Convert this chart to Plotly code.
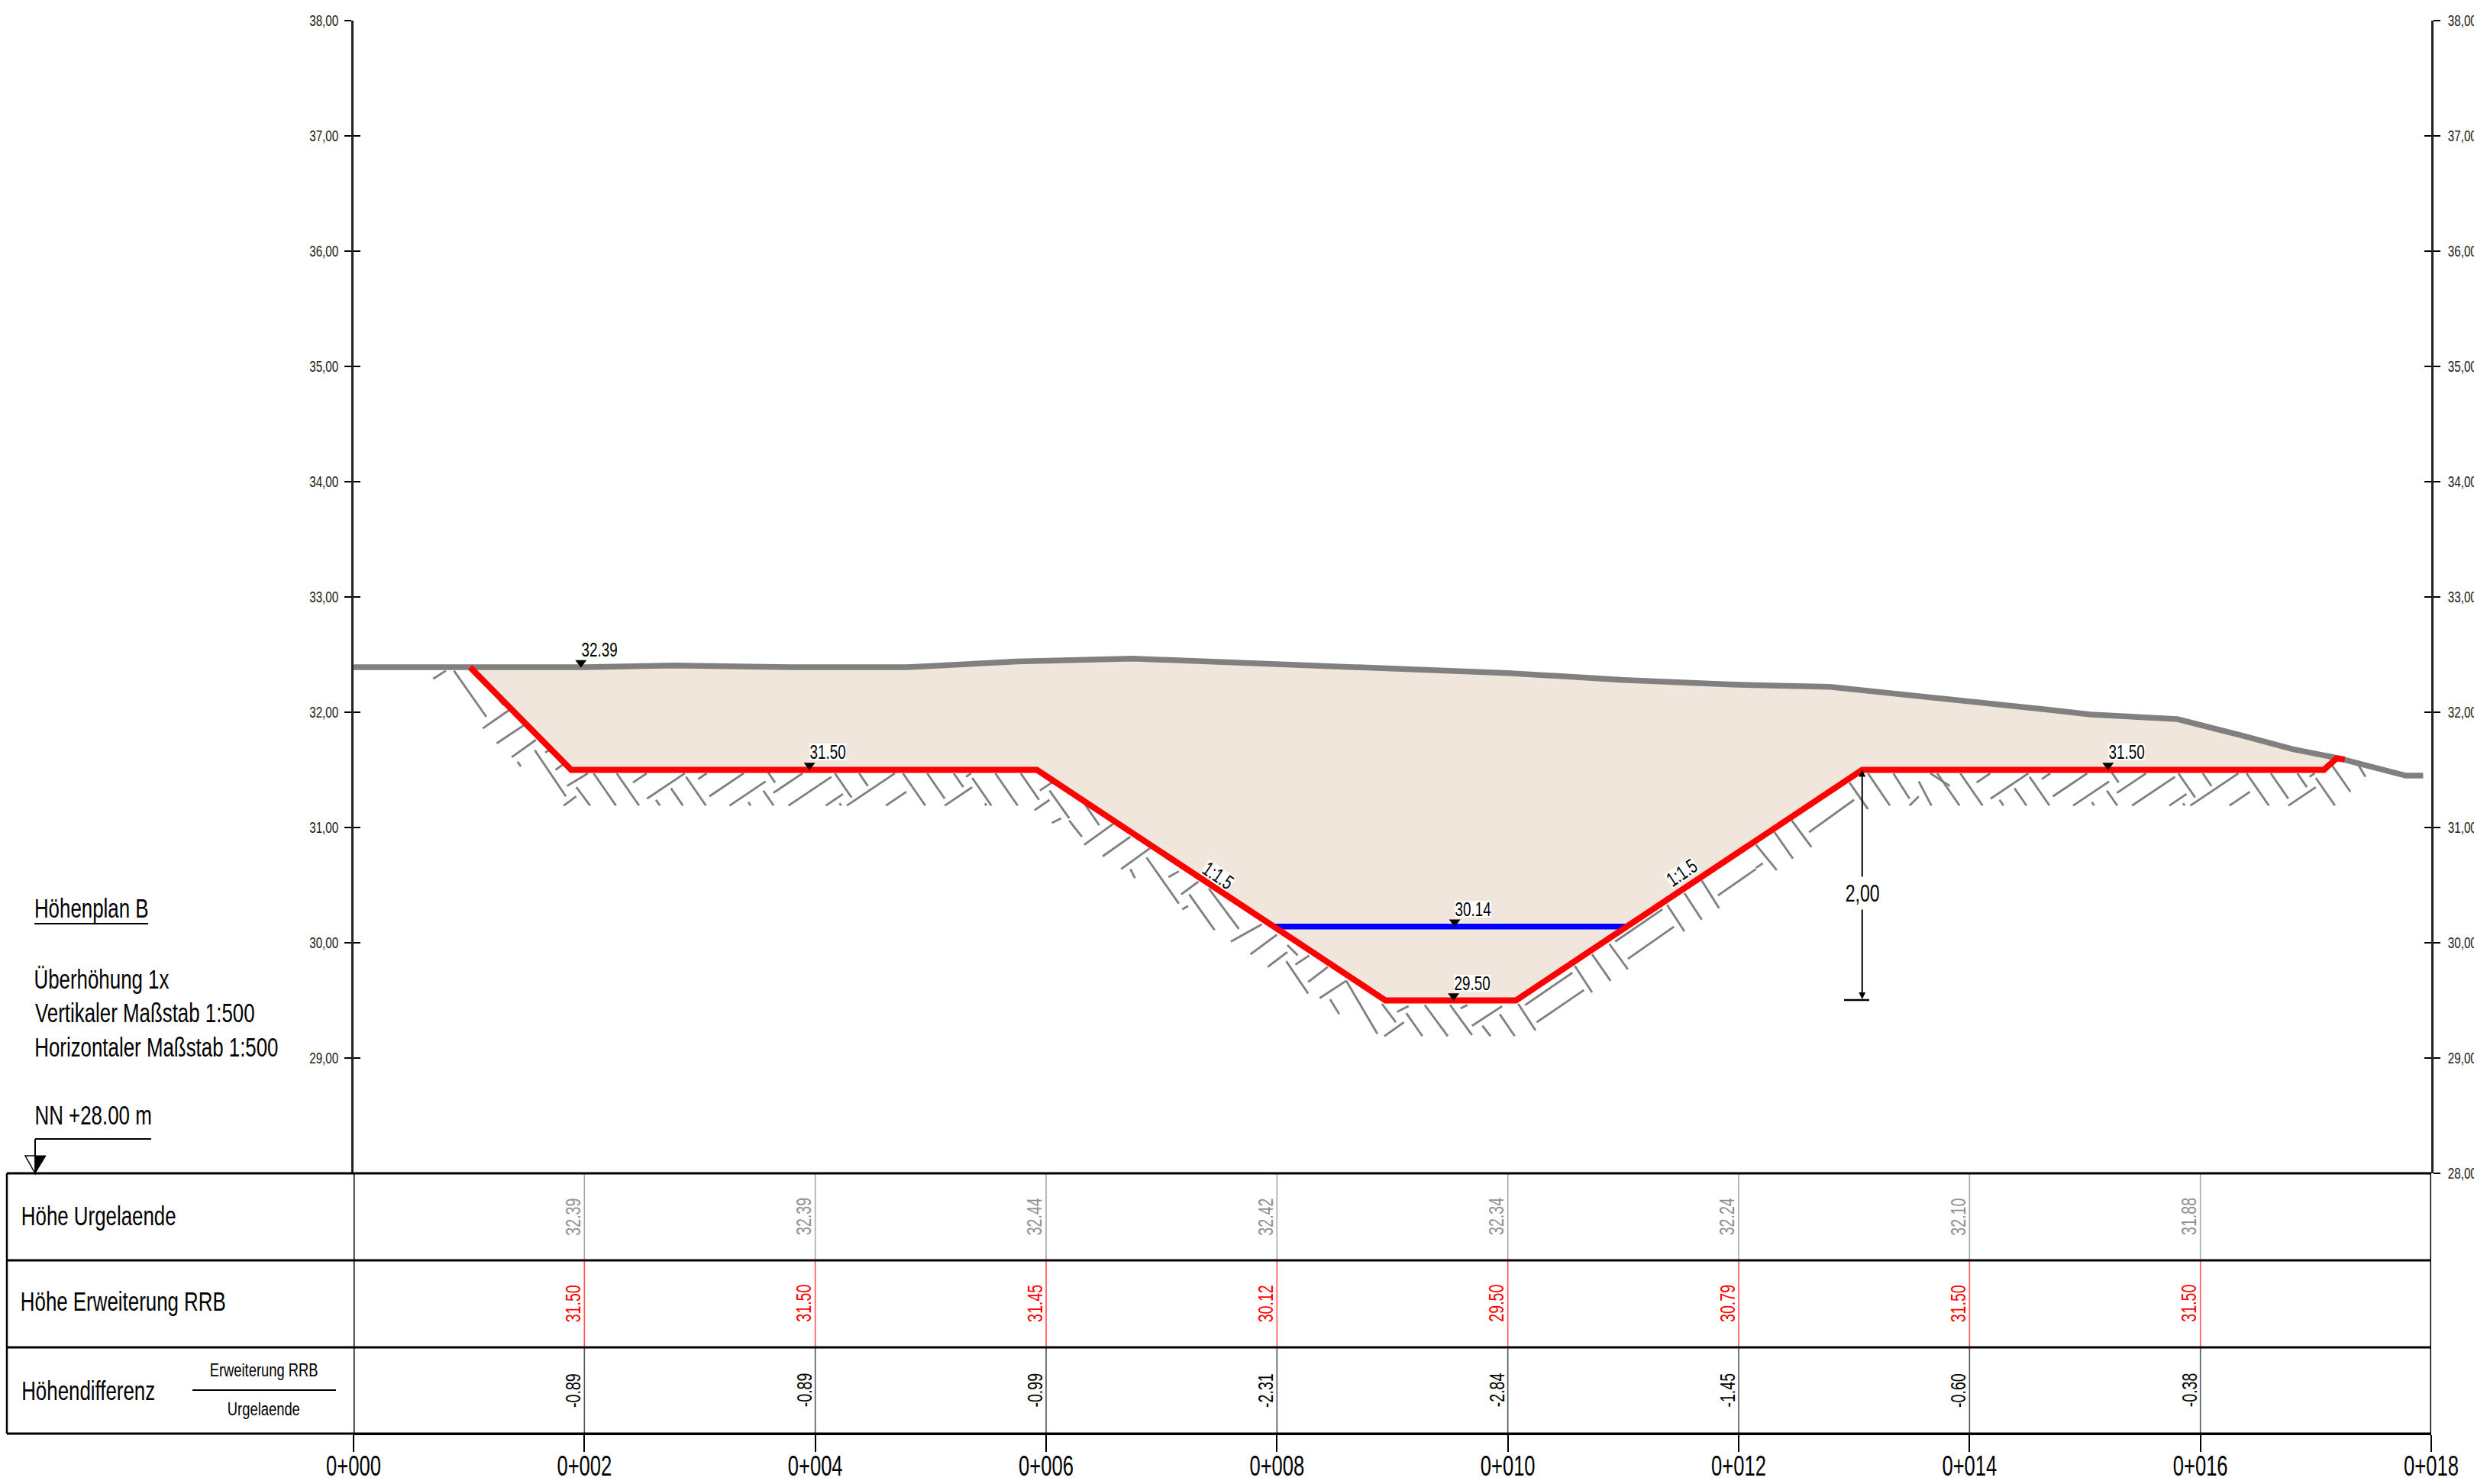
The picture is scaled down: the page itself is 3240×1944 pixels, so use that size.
import plotly.graph_objects as go

W, H = 3240, 1944
FONT = "Liberation Sans, Arial, sans-serif"

# ---- chart data (metres along station / metres NN) ----
station_ticks = [0, 2, 4, 6, 8, 10, 12, 14, 16, 18]
station_labels = ["0+000", "0+002", "0+004", "0+006", "0+008", "0+010", "0+012", "0+014", "0+016", "0+018"]
height_ticks_left = [29, 30, 31, 32, 33, 34, 35, 36, 37, 38]
height_labels_left = ["29,00", "30,00", "31,00", "32,00", "33,00", "34,00", "35,00", "36,00", "37,00", "38,00"]
height_ticks_right = [28, 29, 30, 31, 32, 33, 34, 35, 36, 37, 38]
height_labels_right = ["28,00", "29,00", "30,00", "31,00", "32,00", "33,00", "34,00", "35,00", "36,00", "37,00", "38,00"]

ground_x = [0, 1.0, 2, 2.77, 3.8, 4.8, 5.75, 6.75, 8, 8.55, 10, 11, 11.95, 12.79, 14, 14.7, 15.05, 15.8, 16.35, 16.8, 17.2, 17.78, 17.93]
ground_y = [32.39, 32.385, 32.39, 32.405, 32.39, 32.39, 32.44, 32.465, 32.42, 32.40, 32.34, 32.28, 32.24, 32.22, 32.10, 32.02, 31.98, 31.94, 31.80, 31.68, 31.60, 31.45, 31.45]

design_x = [1.01, 1.886, 5.92, 8.94, 10.07, 13.07, 17.07, 17.18, 17.25]
design_y = [32.39, 31.50, 31.50, 29.50, 29.50, 31.50, 31.50, 31.60, 31.59]

water_x = [7.97, 11.02]
water_y = [30.14, 30.14]

level_x = [1.97, 3.95, 9.54, 9.53, 15.2]
level_y = [32.39, 31.50, 30.14, 29.50, 31.50]
level_text = ["32.39", "31.50", "30.14", "29.50", "31.50"]

table_stations = [2, 4, 6, 8, 10, 12, 14, 16]
hoehe_urgelaende = ["32.39", "32.39", "32.44", "32.42", "32.34", "32.24", "32.10", "31.88"]
hoehe_erweiterung = ["31.50", "31.50", "31.45", "30.12", "29.50", "30.79", "31.50", "31.50"]
hoehe_differenz = ["-0.89", "-0.89", "-0.99", "-2.31", "-2.84", "-1.45", "-0.60", "-0.38"]

# hatching strokes: (x1, y1, x2, y2)
hatch_strokes = [
    (0.69,32.29,0.80,32.36),(1.12,31.86,1.35,32.02),(1.24,31.73,1.48,31.89),(1.37,31.61,1.58,31.76),
    (1.66,31.65,1.71,31.68),(1.75,31.50,1.82,31.55),(1.85,31.36,2.03,31.47),(1.82,31.19,1.93,31.27),
    (0.87,32.36,1.15,31.96),(1.23,32.15,1.30,32.06),(1.57,31.67,1.84,31.27),(1.42,31.57,1.45,31.53),(1.93,31.35,2.05,31.19),
    (6.03,31.32,6.20,31.08),(5.90,31.15,6.03,31.24),(6.05,31.04,6.13,31.08),
    (6.33,30.85,6.58,31.03),(6.49,30.75,6.73,30.92),(6.65,30.64,6.90,30.82),(7.06,30.57,7.15,30.62),
    (7.17,30.42,7.32,30.53),(7.18,30.29,7.23,30.32),(7.60,30.01,7.87,30.16),(7.77,29.90,8.00,30.07),
    (7.92,29.79,8.09,29.92),(8.16,29.81,8.28,29.89),(8.27,29.66,8.44,29.79),(8.37,29.52,8.60,29.67),(8.93,29.19,9.10,29.31),
    (6.20,31.06,6.31,30.92),(6.33,31.21,6.46,31.02),(6.87,30.74,7.15,30.34),(7.24,30.42,7.46,30.11),(7.41,30.47,7.67,30.12),
    (8.08,29.84,8.27,29.56),(8.09,29.98,8.18,29.89),(8.60,29.67,8.87,29.21),(8.46,29.51,8.54,29.38),(6.73,30.64,6.77,30.56),
    (8.91,29.47,9.03,29.31),(9.12,29.39,9.26,29.19),(9.28,29.46,9.48,29.19),(9.50,29.46,9.69,29.20),(9.78,29.28,9.85,29.19),
    (9.93,29.38,10.06,29.19),(10.09,29.47,10.24,29.24),(9.04,29.40,9.14,29.45),(9.59,29.43,9.65,29.46),(9.69,29.28,9.95,29.45),
    (10.58,29.80,10.73,29.57),(10.73,29.90,10.89,29.67),(10.88,29.99,11.04,29.77),(11.38,30.33,11.53,30.10),
    (11.53,30.43,11.68,30.20),(11.68,30.54,11.83,30.30),
    (10.15,29.46,10.56,29.74),(10.25,29.31,10.66,29.59),(10.93,30.01,11.34,30.29),(11.04,29.86,11.44,30.14),(11.82,30.41,12.15,30.64),
    (12.15,30.85,12.33,30.63),(12.31,30.96,12.47,30.73),(12.46,31.06,12.63,30.83),(12.96,31.39,13.12,31.16),
    (12.61,30.96,13.00,31.24),(12.15,30.65,12.21,30.69),
    (13.12,31.47,13.31,31.19),(13.34,31.47,13.48,31.25),(13.56,31.40,13.67,31.19),(13.66,31.47,13.83,31.36),(13.48,31.19,13.56,31.27),
    (17.14,31.54,17.30,31.31),(17.37,31.54,17.43,31.44),
]
# strokes under the flat berm: (x_top, y_top, y_bottom)
flat_back = [(2.08,31.47,31.19),(2.28,31.47,31.19),(2.62,31.24,31.19),(2.75,31.34,31.19),(2.88,31.44,31.19),
             (3.42,31.22,31.19),(3.55,31.32,31.19),(3.59,31.48,31.39),(4.17,31.47,31.26),(4.38,31.47,31.36),
             (4.21,31.21,31.19),(4.76,31.47,31.19),(4.97,31.47,31.25),(5.20,31.47,31.35),(5.36,31.43,31.19),
             (5.47,31.21,31.19),(5.56,31.47,31.19),(5.78,31.47,31.24)]
flat_forward = [(2.54,31.47,31.39),(2.87,31.47,31.25),(3.06,31.47,31.42),(3.38,31.47,31.27),(3.57,31.40,31.19),
                (3.89,31.47,31.30),(4.14,31.44,31.19),(4.24,31.29,31.19),(4.69,31.47,31.19),(4.79,31.31,31.19),
                (5.35,31.47,31.44),(5.36,31.35,31.19),(6.05,31.39,31.32)]
berm_shift = 11.64   # the same hatch repeats under the right-hand berm


def px(x):
    return x / W


def py(y):
    return 1 - y / H


hx, hy = [], []


def stroke(x1, y1, x2, y2):
    hx.extend([x1, x2, None])
    hy.extend([y1, y2, None])


for s in hatch_strokes:
    stroke(*s)
for shift, limit in ((0, 99), (berm_shift, 5.40)):
    for x, y1, y2 in flat_back:
        if x <= limit:
            stroke(x + shift, y1, x + shift + (y1 - y2) * 0.69, y2)
    for x, y1, y2 in flat_forward:
        if x <= limit:
            stroke(x + shift, y1, x + shift - (y1 - y2) * 1.49, y2)

# cross-section polygon between design profile and original ground
fill_x = design_x[:8] + [x for x in reversed(ground_x) if design_x[0] < x < design_x[7]]
fill_y = design_y[:8] + [y for x, y in zip(reversed(ground_x), reversed(ground_y)) if design_x[0] < x < design_x[7]]

fig = go.Figure()
fig.add_trace(go.Scatter(x=hx, y=hy, mode="lines", line=dict(color="#808080", width=2.8)))
fig.add_trace(go.Scatter(x=fill_x, y=fill_y, mode="lines", fill="toself", fillcolor="#F0E6DC", line=dict(width=0)))
fig.add_trace(go.Scatter(x=ground_x, y=ground_y, mode="lines", line=dict(color="#808080", width=7.5)))
fig.add_trace(go.Scatter(x=water_x, y=water_y, mode="lines", line=dict(color="#0000FF", width=7.5)))
fig.add_trace(go.Scatter(x=design_x, y=design_y, mode="lines", line=dict(color="#FF0000", width=8)))
fig.add_trace(go.Scatter(x=level_x, y=[v + 0.04 for v in level_y], mode="markers",
                         marker=dict(symbol="triangle-down", size=13, color="black", line=dict(width=0))))

# table verticals on their own axis (rows 0..3, bottom to top)
row_colors = ["#555555", "#FF5050", "#A8A8A8"]
for row, col in enumerate(row_colors):
    xs, ys = [], []
    for st in table_stations:
        xs += [st, st, None]
        ys += [row, row + 1, None]
    fig.add_trace(go.Scatter(x=xs, y=ys, yaxis="y4", mode="lines", line=dict(color=col, width=1.6)))
fig.add_trace(go.Scatter(x=[0, 0, None, 18, 18], y=[0, 3, None, 0, 3], yaxis="y4", mode="lines", cliponaxis=False,
                         line=dict(color="black", width=3)))
for ya in ("y2", "y3", "y5"):
    fig.add_trace(go.Scatter(x=[None], y=[None], yaxis=ya, mode="lines"))

ann = []
# elevation labels
for x, y, t in zip(level_x, level_y, level_text):
    ann.append(dict(x=x, y=y, text=t, xref="x", yref="y", showarrow=False, xanchor="center", yanchor="middle",
                    yshift=23, xshift=24, bgcolor="white" if t != "32.39" else None, borderpad=0,
                    font=dict(size=26.5, color="black", family=FONT)))
# slope labels
for x, y, a in ((7.49, 30.585, 34), (11.51, 30.61, -34)):
    ann.append(dict(x=x, y=y, text="1:1.5", xref="x", yref="y", showarrow=False, textangle=a, bgcolor="white",
                    borderpad=0, xanchor="center", yanchor="middle",
                    font=dict(size=26.5, color="black", family=FONT)))
# dimension arrow
ann.append(dict(x=design_x[5], y=31.5, ax=design_x[5], ay=29.5, xref="x", yref="y", axref="x", ayref="y", text="",
                showarrow=True, arrowhead=2, arrowside="end+start", arrowsize=0.9, arrowwidth=2, arrowcolor="black"))
ann.append(dict(x=design_x[5], y=30.43, text="2,00", xref="x", yref="y", showarrow=False, bgcolor="white",
                borderpad=3, xanchor="center", yanchor="middle", font=dict(size=32, color="black", family=FONT)))
# table numbers
for row, vals, col in ((2.5, hoehe_urgelaende, "#909090"), (1.5, hoehe_erweiterung, "#FF0000"), (0.5, hoehe_differenz, "black")):
    for st, v in zip(table_stations, vals):
        ann.append(dict(x=st, y=row, yref="y4", xref="x", text=v, textangle=-90, showarrow=False, xshift=-15,
                        xanchor="center", yanchor="middle", font=dict(size=28, color=col, family=FONT)))
# text blocks in page coordinates (text centres)
blocks = [
    ("Höhenplan B", 120, 1190, 34.5), ("Überhöhung 1x", 133, 1283, 34.5), ("Vertikaler Maßstab 1:500", 190, 1327, 34.5),
    ("Horizontaler Maßstab 1:500", 204.5, 1372, 34.5), ("NN +28.00 m", 122, 1461, 34.5),
    ("Höhe Urgelaende", 129, 1593, 34.5), ("Höhe Erweiterung RRB", 161, 1705, 34.5), ("Höhendifferenz", 115, 1822, 34.5),
]
for t, x, y, s in blocks:
    ann.append(dict(x=px(x), y=py(y), xref="paper", yref="paper", text=t, showarrow=False, xanchor="center",
                    yanchor="middle", font=dict(size=s, color="black", family=FONT)))
for t, y in (("Erweiterung RRB", 1794), ("Urgelaende", 1845)):
    ann.append(dict(x=px(345), y=py(y), xref="paper", yref="paper", text=t, showarrow=False, xanchor="center",
                    yanchor="middle", font=dict(size=24.5, color="black", family=FONT)))

shapes = []


def seg(x0, y0, x1, y1, w=2):
    shapes.append(dict(type="line", xref="paper", yref="paper", x0=px(x0), y0=py(y0), x1=px(x1), y1=py(y1),
                       line=dict(color="black", width=w)))


for y in (1537, 1651, 1765, 1878):
    seg(9, y, 3184, y, 3)
seg(9, 1537, 9, 1878, 2.5)
seg(45, 1210, 194, 1210, 2)
seg(252, 1821, 440, 1821, 2)
seg(46, 1492, 198, 1492, 2)
seg(46, 1492, 46, 1537, 2)
seg(2415, 1310, 2448, 1310, 2.5)
shapes.append(dict(type="path", xref="paper", yref="paper",
                   path=f"M {px(33)} {py(1514)} L {px(46)} {py(1514)} L {px(46)} {py(1537)} Z",
                   line=dict(color="black", width=1.5), fillcolor="white"))
shapes.append(dict(type="path", xref="paper", yref="paper",
                   path=f"M {px(46)} {py(1514)} L {px(60)} {py(1514)} L {px(46)} {py(1537)} Z",
                   line=dict(color="black", width=1), fillcolor="black"))

dom_y = [py(1537), py(27)]
tick_font = dict(size=20, color="#222222", family=FONT)
base_y = dict(domain=dom_y, range=[28, 38], showgrid=False, zeroline=False, anchor="x",
              showline=True, linecolor="#222222", linewidth=2.5, ticklen=9, tickwidth=2, tickcolor="black")

fig.update_layout(
    width=W, height=H, autosize=False, margin=dict(l=0, r=0, t=0, b=0, autoexpand=False, pad=0),
    paper_bgcolor="white", plot_bgcolor="white", showlegend=False,
    xaxis=dict(domain=[px(463), px(3184)], range=[0, 18], anchor="free", position=py(1878), showgrid=False,
               zeroline=False, showline=True, linecolor="black", linewidth=2.5, ticks="outside", ticklen=22,
               tickwidth=2, tickcolor="black", tickvals=station_ticks, ticktext=station_labels,
               ticklabelstandoff=-12, tickfont=dict(size=36, color="black", family=FONT)),
    yaxis=dict(**base_y, side="left", ticks="outside", tickvals=height_ticks_left, ticktext=height_labels_left,
               tickfont=tick_font, ticklabelstandoff=4),
    yaxis3=dict(**base_y, side="left", overlaying="y", ticks="inside", tickvals=height_ticks_left, showticklabels=False),
    yaxis2=dict(**base_y, side="right", overlaying="y", ticks="outside", tickvals=height_ticks_right,
                ticktext=height_labels_right, tickfont=tick_font, ticklabelstandoff=6),
    yaxis5=dict(**base_y, side="right", overlaying="y", ticks="inside", tickvals=height_ticks_right, showticklabels=False),
    yaxis4=dict(domain=[py(1878), py(1537)], range=[0, 3], visible=False, anchor="x"),
    annotations=ann, shapes=shapes,
)

# The reference lettering is a condensed face: narrow the real SVG text horizontally by font size.
squeeze_js = """
document.body.style.margin = '0';
var gd = document.getElementById('{plot_id}');
var factors = {'28':0.70,'20':0.76,'36':0.71,'26.5':0.71,'32':0.72,'34.5':0.75,'24.5':0.75};
function squeeze() {
  gd.querySelectorAll('text').forEach(function (t) {
    if (t.getAttribute('data-sq')) return;
    var size = parseFloat(t.style.fontSize);
    var f = factors[String(size)];
    if (!f) return;
    var L = t.getComputedTextLength();
    if (!L) return;
    t.setAttribute('textLength', L * f);
    t.setAttribute('lengthAdjust', 'spacingAndGlyphs');
    t.setAttribute('data-sq', '1');
    var r = t.parentNode.querySelector('rect.bg');
    if (r) {
      var w = parseFloat(r.getAttribute('width'));
      r.setAttribute('x', parseFloat(r.getAttribute('x')) + w * (1 - f) / 2);
      r.setAttribute('width', w * f);
      if (size === 26.5) {
        var h = parseFloat(r.getAttribute('height'));
        r.setAttribute('y', parseFloat(r.getAttribute('y')) + (h - 22) / 2);
        r.setAttribute('height', 22);
      }
    }
  });
}
squeeze();
gd.on('plotly_afterplot', squeeze);
setTimeout(squeeze, 100);
"""
fig.write_html("out.html", post_script=squeeze_js, config=dict(displayModeBar=False))
